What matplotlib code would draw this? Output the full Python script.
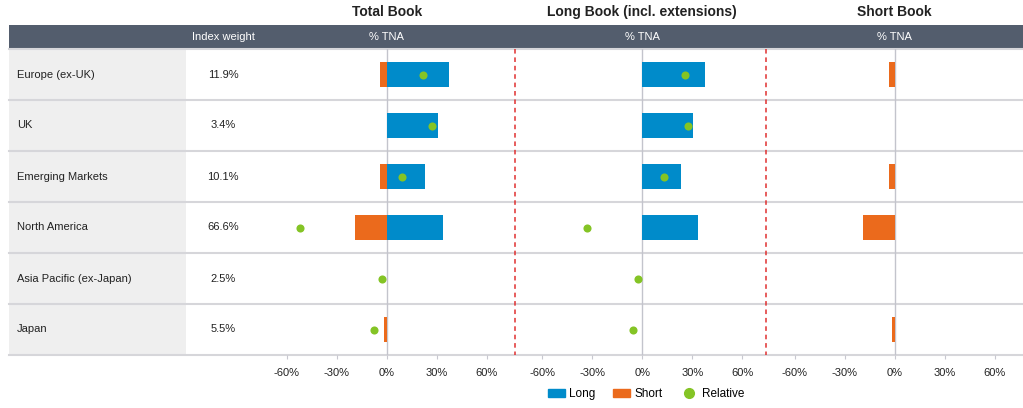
import numpy as np
import matplotlib.pyplot as plt
from matplotlib.patches import Rectangle
from matplotlib.lines import Line2D

plt.rcParams['font.family'] = ['Liberation Sans', 'DejaVu Sans']

# data (% TNA)
regions = ["Europe (ex-UK)", "UK", "Emerging Markets", "North America",
           "Asia Pacific (ex-Japan)", "Japan"]
index_weight = ["11.9%", "3.4%", "10.1%", "66.6%", "2.5%", "5.5%"]

total_long = [37.6, 30.8, 23.2, 33.6, 0.0, 0.0]
total_short = [-3.8, 0.0, -4.0, -19.2, 0.0, -1.5]
total_rel = [21.6, 27.4, 9.2, -52.0, -2.6, -7.4]

longbook_long = [37.4, 30.6, 23.2, 33.6, 0.0, 0.0]
longbook_rel = [25.6, 27.4, 13.2, -33.0, -2.6, -5.6]

shortbook_short = [-3.4, 0.0, -3.6, -19.0, 0.0, -1.6]

panel_titles = ["Total Book", "Long Book (incl. extensions)", "Short Book"]
ticks = [-60, -30, 0, 30, 60]

BLUE = '#008bca'
ORANGE = '#eb6a1c'
GREEN = '#84c425'
HEADER = '#535d6d'
BAND = '#efefef'
LINE = '#d6d6da'

W, H = 1023, 408
fig = plt.figure(figsize=(W / 100, H / 100), dpi=100)

# background / table drawn in pixel coords
bg = fig.add_axes([0, 0, 1, 1])
bg.set_xlim(0, W)
bg.set_ylim(H, 0)
bg.axis('off')

top, bottom = 49, 355
n = len(regions)
rh = (bottom - top) / n

bg.add_patch(Rectangle((9, 25), W - 9, 23, color=HEADER, lw=0))
bg.add_patch(Rectangle((9, top), 177, bottom - top, color=BAND, lw=0))
for i in range(n + 1):
    bg.plot([9, W], [top + i * rh] * 2, color=LINE, lw=1.5)
for i, (r, w) in enumerate(zip(regions, index_weight)):
    yc = top + (i + 0.5) * rh
    bg.text(17, yc, r, fontsize=8, va='center', ha='left', color='#222222')
    bg.text(223, yc, w, fontsize=8, va='center', ha='center', color='#222222')
bg.text(223, 37, "Index weight", fontsize=8, va='center', ha='center', color='white')

# red dashed separators
for xs in [515, 766]:
    bg.plot([xs, xs], [top, bottom], color='#e03030', lw=1.1, ls=(0, (3, 2.5)))

# panels
centers = [386.7, 642.3, 894.7]
half = 125
axes = []
for c, title in zip(centers, panel_titles):
    ax = fig.add_axes([(c - half) / W, (H - bottom) / H, 2 * half / W, (bottom - top) / H])
    ax.set_facecolor('none')
    ax.set_xlim(-75, 75)
    ax.set_ylim(n - 0.5, -0.5)
    for s in ax.spines.values():
        s.set_visible(False)
    ax.set_yticks([])
    ax.set_xticks(ticks)
    ax.set_xticklabels([f"{t}%" for t in ticks], fontsize=8, color='#222222')
    ax.tick_params(axis='x', length=3, width=0.8, color='#c8c8d0', pad=6)
    ax.axvline(0, color='#c3c4cc', lw=1, zorder=1)
    bg.text(c, 12, title, fontsize=10, fontweight='bold', ha='center', va='center', color='#222222')
    bg.text(c, 37, "% TNA", fontsize=8, ha='center', va='center', color='white')
    axes.append(ax)

y = np.arange(n)
bh = 0.5
bar_kw = dict(height=bh, zorder=2, linewidth=0)

ax = axes[0]
ax.barh(y, total_long, color=BLUE, **bar_kw)
ax.barh(y, total_short, color=ORANGE, **bar_kw)
ax.scatter(total_rel, y, s=34, color=GREEN, zorder=3, lw=0)

ax = axes[1]
ax.barh(y, longbook_long, color=BLUE, **bar_kw)
ax.scatter(longbook_rel, y, s=34, color=GREEN, zorder=3, lw=0)

ax = axes[2]
ax.barh(y, shortbook_short, color=ORANGE, **bar_kw)

handles = [Rectangle((0, 0), 1, 1, color=BLUE),
           Rectangle((0, 0), 1, 1, color=ORANGE),
           Line2D([], [], marker='o', ls='', color=GREEN, markersize=7)]
fig.legend(handles, ["Long", "Short", "Relative"], loc='center',
           bbox_to_anchor=(646 / W, 1 - 394 / H), ncol=3, frameon=False,
           fontsize=8.5, handlelength=1.4, handleheight=0.6, columnspacing=1.5,
           handletextpad=0.4)

fig.savefig('out.png', dpi=100)
